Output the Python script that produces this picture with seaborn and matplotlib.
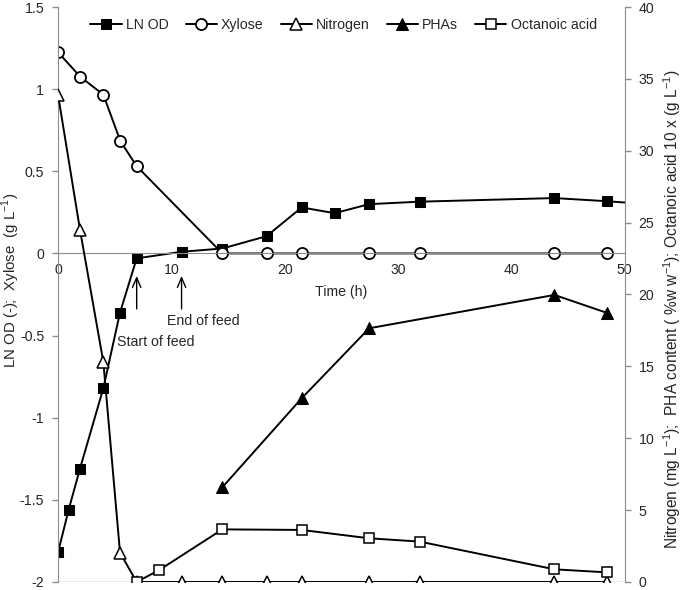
import numpy as np
import pandas as pd
import matplotlib
matplotlib.use('Agg')
import matplotlib.pyplot as plt
import seaborn as sns

# ── Data ─────────────────────────────────────────────────────────────
od_time = [0, 0.94, 1.94, 4.0, 5.47, 6.94, 10.9, 14.5, 18.4, 21.5, 24.4, 27.45, 31.9, 43.8, 48.4, 52]
ln_od = [-1.82, -1.56, -1.31, -0.82, -0.36, -0.03, 0.01, 0.03, 0.105, 0.28, 0.245, 0.30, 0.315, 0.337, 0.318, 0.30]

xyl_time = [0, 1.94, 4.0, 5.5, 6.94, 14.5, 18.4, 21.5, 27.45, 31.9, 43.8, 48.4]
xylose = [1.225, 1.077, 0.966, 0.684, 0.531, 0, 0, 0, 0, 0, 0, 0]

nit_time = [0, 1.94, 4.0, 5.47, 6.94, 10.9, 14.5, 18.4, 21.5, 27.45, 31.9, 43.8, 48.4]
nitrogen = [33.9, 24.5, 15.3, 2.04, 0, 0, 0, 0, 0, 0, 0, 0, 0]

pha_time = [14.5, 21.5, 27.45, 43.8, 48.4]
pha = [6.59, 12.78, 17.65, 19.97, 18.73]

oct_time = [6.94, 8.93, 14.5, 21.5, 27.45, 31.9, 43.8, 48.4]
octanoic = [0, 0.83, 3.66, 3.62, 3.04, 2.81, 0.88, 0.67]

x_ticks = [0, 10, 20, 30, 40, 50]
left_ticks = [-2, -1.5, -1, -0.5, 0, 0.5, 1, 1.5]
right_ticks = [0, 5, 10, 15, 20, 25, 30, 35, 40]

feed_start = 6.94
feed_end = 10.9

sns.set_style('white')
plt.rcParams['font.family'] = ['Liberation Sans', 'DejaVu Sans']
plt.rcParams['mathtext.fontset'] = 'custom'
plt.rcParams['mathtext.rm'] = 'Liberation Sans'
plt.rcParams['axes.unicode_minus'] = False

fs = 10.2
fig = plt.figure(figsize=(6.85, 5.9), dpi=100)
ax = fig.add_axes([0.0847, 0.0136, 0.8273, 0.9745])
ax2 = ax.twinx()

lw = 1.4
sns.lineplot(x=od_time, y=ln_od, ax=ax, color='black', lw=lw, marker='s', markersize=6.5,
             markerfacecolor='black', markeredgecolor='black', sort=False, label='LN OD')
sns.lineplot(x=xyl_time, y=xylose, ax=ax, color='black', lw=lw, marker='o', markersize=8,
             markerfacecolor='white', markeredgecolor='black', markeredgewidth=1.3,
             sort=False, label='Xylose')
sns.lineplot(x=nit_time, y=nitrogen, ax=ax2, color='black', lw=lw, marker='^', markersize=8,
             markerfacecolor='white', markeredgecolor='black', markeredgewidth=1.1,
             sort=False, label='Nitrogen')
sns.lineplot(x=pha_time, y=pha, ax=ax2, color='black', lw=lw, marker='^', markersize=8,
             markerfacecolor='black', markeredgecolor='black', sort=False, label='PHAs')
sns.lineplot(x=oct_time, y=octanoic, ax=ax2, color='black', lw=lw, marker='s', markersize=7,
             markerfacecolor='white', markeredgecolor='black', markeredgewidth=1.1,
             sort=False, label='Octanoic acid')

ax.set_xlim(0, 50)
ax.set_ylim(-2, 1.5)
ax2.set_ylim(0, 40)

grey = '#8c8c8c'
for a in (ax, ax2):
    for s in a.spines.values():
        s.set_visible(False)
ax.spines['left'].set_visible(True)
ax.spines['left'].set_color(grey)
ax.spines['bottom'].set_visible(True)
ax.spines['bottom'].set_color(grey)
ax.spines['bottom'].set_position(('data', 0))
ax2.spines['right'].set_visible(True)
ax2.spines['right'].set_color(grey)
ax.axhline(-2, color=grey, lw=1, zorder=0)

ax.set_xticks(x_ticks)
ax.set_xticklabels([str(v) for v in x_ticks])
ax.set_yticks(left_ticks)
ax.set_yticklabels([f'{v:g}' for v in left_ticks])
ax2.set_yticks(right_ticks)
ax2.set_yticklabels([str(v) for v in right_ticks])

ax.tick_params(axis='x', length=0, pad=7, labelsize=fs)
ax.tick_params(axis='y', direction='out', length=4, color=grey, width=1, pad=6, labelsize=fs, left=True)
ax2.tick_params(axis='y', direction='out', length=4, color=grey, width=1, pad=6, labelsize=fs, right=True)

ax.set_xlabel('Time (h)', fontsize=fs, labelpad=6)
ax.set_ylabel('LN OD (-);  Xylose  (g L$^{-1}$)', fontsize=10.8, va='center')
ax.yaxis.set_label_coords(-0.083, 0.525)
ax2.set_ylabel('Nitrogen (mg L$^{-1}$);  PHA content ( %w w$^{-1}$); Octanoic acid 10 x (g L$^{-1}$)',
               fontsize=11.2, va='center')
ax2.yaxis.set_label_coords(1.083, 0.475)

# feed annotations
arrow = dict(arrowstyle='->,head_length=0.7,head_width=0.3', color='black', lw=1)
ax.annotate('', xy=(feed_start, -0.12), xytext=(feed_start, -0.355), arrowprops=arrow)
ax.annotate('', xy=(feed_end, -0.12), xytext=(feed_end, -0.355), arrowprops=arrow)
ax.text(5.2, -0.54, 'Start of feed', fontsize=fs, ha='left', va='center')
ax.text(9.6, -0.41, 'End of feed', fontsize=fs, ha='left', va='center')

# legend combining both axes
h1, l1 = ax.get_legend_handles_labels()
h2, l2 = ax2.get_legend_handles_labels()
ax.get_legend().remove()
ax2.get_legend().remove()
ax2.legend(h1 + h2, l1 + l2, loc='center', bbox_to_anchor=(0.504, 0.969), ncol=5,
           frameon=False, fontsize=fs, handlelength=2.2, handletextpad=0.3,
           columnspacing=1.2, borderpad=0)

plt.savefig('out.png', dpi=100)
